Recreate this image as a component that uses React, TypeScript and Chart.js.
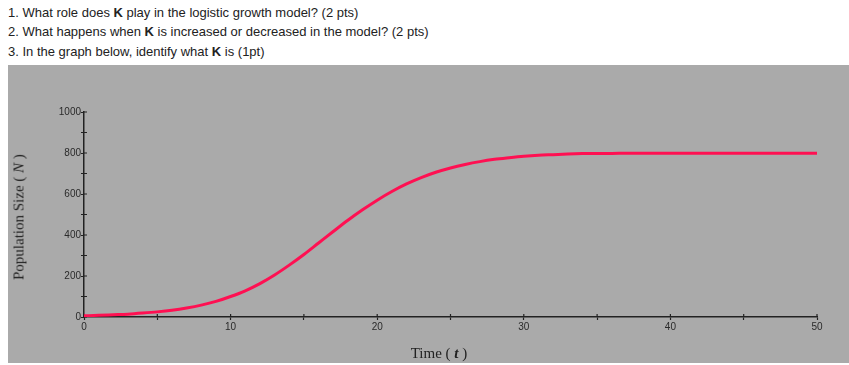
import React, { useEffect, useRef } from "react";
import { Chart, registerables } from "chart.js";

Chart.register(...registerables);

// Time (t) values
const times: number[] = [
  0, 1, 2, 3, 4, 5, 6, 7, 8, 9, 10, 11, 12, 13, 14, 15, 16, 17, 18, 19, 20,
  21, 22, 23, 24, 25, 26, 27, 28, 29, 30, 31, 32, 33, 34, 35, 36, 37, 38, 39,
  40, 41, 42, 43, 44, 45, 46, 47, 48, 49, 50,
];
// Population size (N)
const population: number[] = [
  6, 8, 11, 14, 19, 25, 33, 44, 58, 76, 100, 128, 163, 205, 253, 305, 361,
  417, 472, 523, 570, 612, 649, 680, 706, 727, 744, 758, 769, 777, 784, 789,
  792, 795, 797, 798, 798, 799, 799, 799, 799, 799, 799, 799, 799, 799, 799,
  799, 799, 799, 799,
];
const yTickLabels: number[] = [0, 200, 400, 600, 800, 1000];
const xTickLabels: number[] = [0, 10, 20, 30, 40, 50];

const innerTicks = {
  id: "innerTicks",
  beforeDatasetsDraw(chart: any) {
    const ctx = chart.ctx;
    const xs = chart.scales.x;
    const ys = chart.scales.y;
    ctx.save();
    ctx.strokeStyle = "#222";
    ctx.lineWidth = 1.2;
    ctx.beginPath();
    for (const t of xs.ticks) {
      const px = xs.getPixelForValue(t.value);
      ctx.moveTo(px, xs.top);
      ctx.lineTo(px, xs.top - 3);
    }
    for (const t of ys.ticks) {
      const py = ys.getPixelForValue(t.value);
      ctx.moveTo(ys.right, py);
      ctx.lineTo(ys.right + 3, py);
    }
    ctx.stroke();
    ctx.restore();
  },
};

export default function App() {
  const ref = useRef<HTMLCanvasElement | null>(null);
  useEffect(() => {
    if (!ref.current) return;
    const chart = new Chart(ref.current, {
      type: "line",
      data: {
        datasets: [
          {
            data: times.map((t, i) => ({ x: t, y: population[i] })),
            borderColor: "#ff1052",
            borderWidth: 3,
            pointRadius: 0,
            cubicInterpolationMode: "monotone",
            fill: false,
          },
        ],
      },
      options: {
        animation: false,
        responsive: false,
        maintainAspectRatio: false,
        plugins: { legend: { display: false }, tooltip: { enabled: false } },
        layout: { padding: { left: 0, right: 32, top: 47, bottom: 0 } },
        scales: {
          x: {
            type: "linear",
            min: 0,
            max: 50,
            border: { color: "#222", width: 1.5 },
            grid: { drawOnChartArea: false, tickLength: 3, color: "#222", tickWidth: 1.2 },
            ticks: {
              stepSize: 5,
              padding: 1,
              color: "#2a2a2a",
              font: { family: "Liberation Sans", size: 10 },
              maxRotation: 0,
              autoSkip: false,
              callback: (v: any) => (xTickLabels.includes(Number(v)) ? String(v) : ""),
            },
            afterFit: (s: any) => {
              s.height = 46;
            },
          },
          y: {
            type: "linear",
            min: 0,
            max: 1000,
            border: { color: "#222", width: 1.5 },
            grid: { drawOnChartArea: false, tickLength: 3, color: "#222", tickWidth: 1.2 },
            ticks: {
              stepSize: 100,
              padding: 0,
              color: "#2a2a2a",
              font: { family: "Liberation Sans", size: 10 },
              autoSkip: false,
              callback: (v: any) => (yTickLabels.includes(Number(v)) ? String(v) : ""),
            },
            afterFit: (s: any) => {
              s.width = 76;
            },
          },
        },
      },
      plugins: [innerTicks],
    });
    return () => chart.destroy();
  }, []);

  const lineStyle: React.CSSProperties = {
    position: "absolute",
    left: 8,
    fontFamily: "'Liberation Sans', Arial, sans-serif",
    fontSize: 13,
    lineHeight: "16px",
    color: "#222",
    whiteSpace: "nowrap",
  };

  return (
    <div style={{ position: "absolute", left: 0, top: 0, width: 849, height: 365, background: "#fff", overflow: "hidden" }}>
      <div style={{ ...lineStyle, top: 5 }}>
        1. What role does <b>K</b> play in the logistic growth model? (2 pts)
      </div>
      <div style={{ ...lineStyle, top: 24 }}>
        2. What happens when <b>K</b> is increased or decreased in the model? (2 pts)
      </div>
      <div style={{ ...lineStyle, top: 44 }}>
        3. In the graph below, identify what <b>K</b> is (1pt)
      </div>
      <div style={{ position: "absolute", left: 8, top: 65, width: 841, height: 298, background: "#aaaaaa" }}>
        <canvas ref={ref} width={841} height={298} style={{ display: "block", width: 841, height: 298 }} />
        <div
          style={{
            position: "absolute",
            left: 11,
            top: 152,
            transform: "translate(-50%, -50%) rotate(-90deg)",
            fontFamily: "'Liberation Serif', serif",
            fontSize: 15,
            color: "#222",
            whiteSpace: "nowrap",
          }}
        >
          Population Size ( <i>N</i> )
        </div>
        <div
          style={{
            position: "absolute",
            left: 431,
            top: 288,
            transform: "translate(-50%, -50%)",
            fontFamily: "'Liberation Serif', serif",
            fontSize: 15,
            color: "#222",
            whiteSpace: "nowrap",
          }}
        >
          Time ( <b><i>t</i></b> )
        </div>
      </div>
    </div>
  );
}
